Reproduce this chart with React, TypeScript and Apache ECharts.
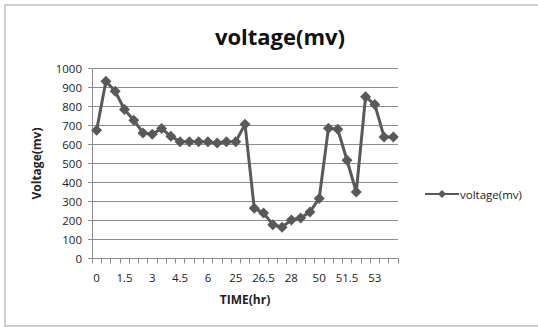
import React, { useEffect, useRef } from "react";
import * as echarts from "echarts";

const categories: string[] = [
  "0", "0.5", "1", "1.5", "2", "2.5", "3", "3.5", "4", "4.5", "5", "5.5", "6",
  "24", "24.5", "25", "25.5", "26", "26.5", "27", "27.5", "28", "49", "49.5",
  "50", "50.5", "51", "51.5", "52", "52.5", "53", "53.5", "54",
];

const voltage: number[] = [
  675, 933, 880, 784, 728, 661, 654, 684, 644, 614, 614, 614, 614,
  608, 614, 614, 707, 264, 240, 178, 165, 203, 213, 245,
  316, 686, 680, 517, 350, 851, 810, 640, 640,
];

const yTicks = { min: 0, max: 1000, interval: 100 };

const FONT = "'Open Sans', 'Liberation Sans', sans-serif";

export default function App() {
  const ref = useRef<HTMLDivElement>(null);
  useEffect(() => {
    if (!ref.current) return;
    const chart = echarts.init(ref.current, null, { renderer: "svg" });
    chart.setOption({
      animation: false,
      backgroundColor: "#ffffff",
      textStyle: { fontFamily: FONT },
      title: {
        text: "voltage(mv)",
        left: 275,
        textAlign: "center",
        top: 20,
        textStyle: { fontFamily: FONT, fontSize: 22, fontWeight: "bold", color: "#111" },
      },
      graphic: [
        {
          type: "rect",
          shape: { x: 5, y: 5, width: 545, height: 321 },
          style: { fill: "none", stroke: "#c0c0c0", lineWidth: 1.5 },
          silent: true,
        },
      ],
      legend: {
        left: 419,
        top: 183,
        itemWidth: 34,
        itemHeight: 10,
        itemGap: 2,
        data: ["voltage(mv)"],
        textStyle: { fontFamily: FONT, fontSize: 11.5, color: "#222", padding: [0, 0, 0, -4] },
      },
      grid: { left: 92, right: 140, top: 68.5, bottom: 68.5 },
      xAxis: {
        type: "category",
        data: categories,
        boundaryGap: true,
        name: "TIME(hr)",
        nameLocation: "middle",
        nameGap: 35,
        nameTextStyle: { fontFamily: FONT, fontSize: 12, fontWeight: "bold", color: "#222" },
        axisLine: { lineStyle: { color: "#8c8c8c", width: 1 } },
        axisTick: { show: true, interval: 0, length: 5, lineStyle: { color: "#8c8c8c" } },
        axisLabel: { interval: 2, margin: 13, fontSize: 11.5, color: "#222", fontFamily: FONT },
        splitLine: { show: false },
      },
      yAxis: {
        type: "value",
        min: yTicks.min,
        max: yTicks.max,
        interval: yTicks.interval,
        name: "Voltage(mv)",
        nameLocation: "middle",
        nameGap: 50,
        nameTextStyle: { fontFamily: FONT, fontSize: 12, fontWeight: "bold", color: "#222" },
        axisLine: { show: true, lineStyle: { color: "#8c8c8c", width: 1 } },
        axisTick: { show: true, length: 4, lineStyle: { color: "#8c8c8c" } },
        axisLabel: {
          margin: 10,
          fontSize: 11.5,
          color: "#222",
          fontFamily: FONT,
          formatter: (v: number) => String(v),
        },
        splitLine: { show: true, lineStyle: { color: "#8c8c8c", width: 1 } },
      },
      series: [
        {
          name: "voltage(mv)",
          type: "line",
          data: voltage,
          symbol: "diamond",
          symbolSize: 11,
          showAllSymbol: true,
          itemStyle: { color: "#595959" },
          lineStyle: { color: "#595959", width: 3 },
        },
      ],
    });
    return () => chart.dispose();
  }, []);
  return (
    <div
      ref={ref}
      style={{ position: "absolute", left: 0, top: 0, width: 538, height: 327 }}
    />
  );
}
